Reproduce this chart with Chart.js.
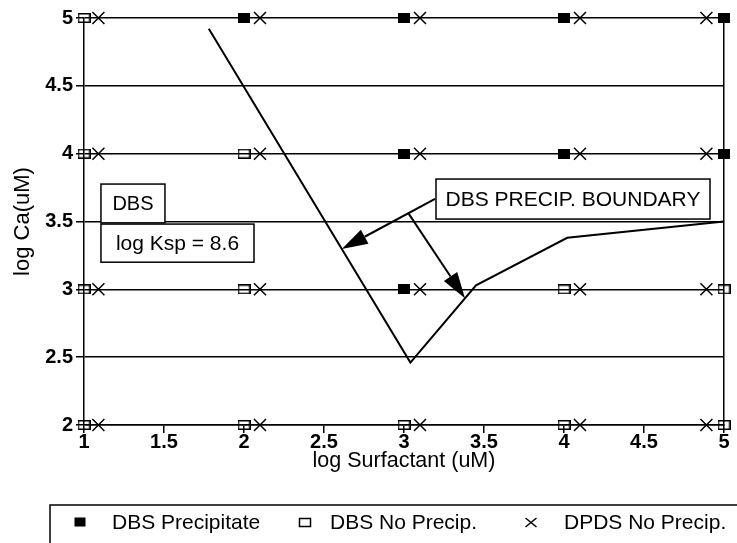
<!DOCTYPE html>
<html>
<head>
<meta charset="utf-8">
<script src="https://cdn.jsdelivr.net/npm/chart.js@4.4.0/dist/chart.umd.min.js"></script>
<style>
html,body{margin:0;padding:0;background:#fff;}
#wrap{width:737px;height:543px;position:relative;}
</style>
</head>
<body>
<div id="wrap"><canvas id="c" width="737" height="543"></canvas></div>
<script>
// ---- data ----
const xTicks = [1, 1.5, 2, 2.5, 3, 3.5, 4, 4.5, 5];
const yTicks = [2, 2.5, 3, 3.5, 4, 4.5, 5];
const seriesNames = ['DBS Precipitate', 'DBS No Precip.', 'DPDS No Precip.'];

const precipX = [2, 3, 4, 5, 3, 4, 5, 3];
const precipY = [5, 5, 5, 5, 4, 4, 4, 3];

const noPrecipX = [1, 1, 2, 1, 2, 4, 5, 1, 2, 3, 4, 5];
const noPrecipY = [5, 4, 4, 3, 3, 3, 3, 2, 2, 2, 2, 2];

const dpdsX = [1.09, 2.1, 3.1, 4.1, 4.89,
               1.09, 2.1, 3.1, 4.1, 4.89,
               1.09, 2.1, 3.1, 4.1, 4.89,
               1.09, 2.1, 3.1, 4.1, 4.89];
const dpdsY = [5, 5, 5, 5, 5,
               4, 4, 4, 4, 4,
               3, 3, 3, 3, 3,
               2, 2, 2, 2, 2];

const boundaryX = [1.78, 3.04, 3.45, 4.02, 5.0];
const boundaryY = [4.92, 2.46, 3.03, 3.38, 3.50];

const boxTexts = ['DBS', 'log Ksp = 8.6', 'DBS PRECIP. BOUNDARY'];

// ---- helpers ----
const FONT = "'Liberation Sans', Arial, Helvetica, sans-serif";
function zip(xs, ys) { return xs.map((x, i) => ({x: x, y: ys[i]})); }

function makeRect(w, h, filled) {
  const c = document.createElement('canvas');
  c.width = w; c.height = h;
  const g = c.getContext('2d');
  if (filled) { g.fillStyle = '#000'; g.fillRect(0, 0, w, h); }
  else { g.strokeStyle = '#000'; g.lineWidth = 1.5; g.strokeRect(0.75, 0.75, w - 1.5, h - 1.5); }
  return c;
}
const filledRect = makeRect(12, 10, true);
const openRect = makeRect(13, 10, false);

// annotation geometry in data units
const annot = {
  boxes: [
    {x0: 1.106, x1: 1.506, y0: 3.776, y1: 3.49, text: 0, fs: 20},
    {x0: 1.106, x1: 2.0625, y0: 3.481, y1: 3.20, text: 1, fs: 21},
    {x0: 3.20, x1: 4.9125, y0: 3.813, y1: 3.518, text: 2, fs: 21}
  ],
  arrows: [
    {x0: 3.194, y0: 3.666, x1: 2.611, y1: 3.297},
    {x0: 3.027, y0: 3.562, x1: 3.381, y1: 2.935}
  ]
};

const annotPlugin = {
  id: 'annot',
  afterDatasetsDraw(chart) {
    const ctx = chart.ctx, xs = chart.scales.x, ys = chart.scales.y;
    ctx.save();
    annot.boxes.forEach(b => {
      const l = xs.getPixelForValue(b.x0), r = xs.getPixelForValue(b.x1);
      const t = ys.getPixelForValue(b.y0), btm = ys.getPixelForValue(b.y1);
      ctx.fillStyle = '#fff';
      ctx.fillRect(l, t, r - l, btm - t);
      ctx.lineWidth = 1.5;
      ctx.strokeStyle = '#000';
      ctx.strokeRect(l, t, r - l, btm - t);
      ctx.fillStyle = '#000';
      ctx.font = b.fs + 'px ' + FONT;
      ctx.textAlign = 'center';
      ctx.textBaseline = 'middle';
      ctx.fillText(boxTexts[b.text], (l + r) / 2, (t + btm) / 2 + 1);
    });
    annot.arrows.forEach(a => {
      const px0 = xs.getPixelForValue(a.x0), py0 = ys.getPixelForValue(a.y0);
      const px1 = xs.getPixelForValue(a.x1), py1 = ys.getPixelForValue(a.y1);
      const ang = Math.atan2(py1 - py0, px1 - px0);
      const L = 26, W = 8;
      const bx = px1 - L * Math.cos(ang), by = py1 - L * Math.sin(ang);
      ctx.strokeStyle = '#000'; ctx.fillStyle = '#000';
      ctx.lineWidth = 2;
      ctx.beginPath(); ctx.moveTo(px0, py0); ctx.lineTo(bx, by); ctx.stroke();
      ctx.beginPath();
      ctx.moveTo(px1, py1);
      ctx.lineTo(bx + W * Math.sin(ang), by - W * Math.cos(ang));
      ctx.lineTo(bx - W * Math.sin(ang), by + W * Math.cos(ang));
      ctx.closePath(); ctx.fill();
    });
    ctx.restore();
  }
};

const legendPlugin = {
  id: 'customLegend',
  afterDraw(chart) {
    const ctx = chart.ctx;
    ctx.save();
    ctx.strokeStyle = '#000'; ctx.lineWidth = 1.5;
    ctx.beginPath();
    ctx.moveTo(50, 543); ctx.lineTo(50, 505); ctx.lineTo(737, 505);
    ctx.stroke();
    const cy = 522;
    const items = [
      {mx: 80, tx: 112},
      {mx: 305, tx: 330},
      {mx: 531, tx: 564}
    ];
    ctx.font = '21px ' + FONT;
    ctx.textAlign = 'left'; ctx.textBaseline = 'middle'; ctx.fillStyle = '#000';
    items.forEach((it, i) => {
      if (i === 0) ctx.fillRect(it.mx - 5.5, cy - 4.5, 11, 9);
      else if (i === 1) { ctx.lineWidth = 1.5; ctx.strokeRect(it.mx - 5.5, cy - 3.5, 11, 8); }
      else {
        ctx.lineWidth = 1.5;
        ctx.beginPath();
        ctx.moveTo(it.mx - 5.5, cy - 4); ctx.lineTo(it.mx + 5.5, cy + 5);
        ctx.moveTo(it.mx + 5.5, cy - 4); ctx.lineTo(it.mx - 5.5, cy + 5);
        ctx.stroke();
      }
      ctx.fillText(chart.data.datasets[i].label, it.tx, cy + 1);
    });
    ctx.restore();
  }
};

new Chart(document.getElementById('c'), {
  type: 'scatter',
  data: {
    datasets: [
      {label: seriesNames[0], data: zip(precipX, precipY), pointStyle: filledRect, pointRadius: 6,
       backgroundColor: '#000', borderColor: '#000', clip: false, order: 1},
      {label: seriesNames[1], data: zip(noPrecipX, noPrecipY), pointStyle: openRect, pointRadius: 6,
       backgroundColor: '#fff', borderColor: '#000', clip: false, order: 1},
      {label: seriesNames[2], data: zip(dpdsX, dpdsY), pointStyle: 'crossRot', pointRadius: 8.5,
       borderWidth: 1.5, backgroundColor: '#000', borderColor: '#000', clip: false, order: 1},
      {label: 'boundary', data: zip(boundaryX, boundaryY), showLine: true, pointRadius: 0,
       borderColor: '#000', borderWidth: 2, tension: 0, fill: false, clip: false, order: 2}
    ]
  },
  options: {
    responsive: false,
    devicePixelRatio: 1,
    animation: false,
    events: [],
    layout: {padding: {top: 18, bottom: 66, left: 0, right: 0}},
    plugins: {legend: {display: false}, tooltip: {enabled: false}},
    scales: {
      x: {
        type: 'linear', min: 1, max: 5,
        afterBuildTicks: s => { s.ticks = xTicks.map(v => ({value: v})); },
        afterFit: s => { s.height = 52; },
        ticks: {color: '#000', font: {family: FONT, size: 20, weight: 'bold'}, padding: -3,
                maxRotation: 0, autoSkip: false, callback: v => String(v)},
        grid: {drawOnChartArea: false, drawTicks: true, tickLength: 8, color: '#000', lineWidth: 1.5},
        border: {display: true, color: '#000', width: 1.5},
        title: {display: true, text: 'log Surfactant (uM)', color: '#000',
                font: {family: FONT, size: 21.5}, padding: {top: 0, bottom: 3}}
      },
      y: {
        type: 'linear', min: 2, max: 5,
        afterBuildTicks: s => { s.ticks = yTicks.map(v => ({value: v})); },
        afterFit: s => { s.width = 84; },
        ticks: {color: '#000', font: {family: FONT, size: 20, weight: 'bold'}, padding: 3,
                autoSkip: false, callback: v => String(v)},
        grid: {drawOnChartArea: true, drawTicks: true, tickLength: 8, color: '#000', lineWidth: 1.5},
        border: {display: true, color: '#000', width: 1.5},
        title: {display: true, text: 'log Ca(uM)', color: '#000',
                font: {family: FONT, size: 22}, padding: {top: 10, bottom: 0}}
      },
      y2: {
        type: 'linear', position: 'right', min: 2, max: 5,
        afterFit: s => { s.width = 13; },
        ticks: {display: false},
        grid: {display: false},
        border: {display: true, color: '#000', width: 1.5}
      }
    }
  },
  plugins: [annotPlugin, legendPlugin]
});
</script>
</body>
</html>
